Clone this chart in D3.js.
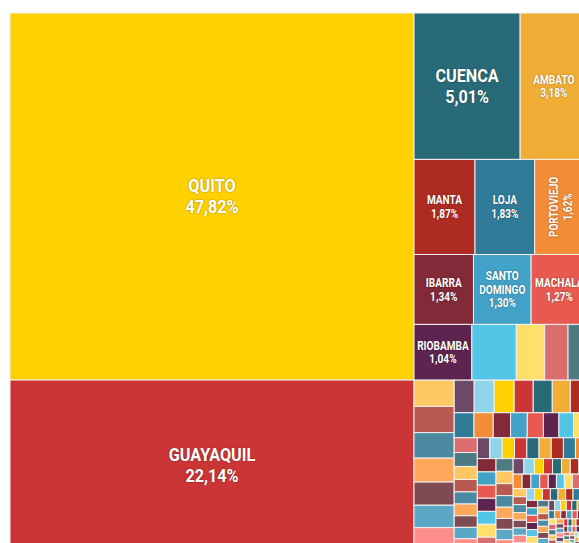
<!DOCTYPE html>
<html><head><meta charset="utf-8">
<script src="https://cdn.jsdelivr.net/npm/d3@7"></script>
<style>
html,body{margin:0;padding:0;background:#fff;}
svg{display:block;overflow:hidden;}
text.lbl{font-family:Roboto,"Noto Sans",sans-serif;font-weight:bold;fill:#fff;text-shadow:0 0 2px rgba(0,0,0,0.4);}
</style></head><body>
<svg id="chart" width="579" height="543"></svg>
<script>
// Cantones principales (con etiqueta) y su porcentaje
const cantones = ["Quito","Guayaquil","Cuenca","Ambato","Manta","Loja","Portoviejo","Ibarra","Santo Domingo","Machala","Riobamba"];
const porcentajes = [47.82,22.14,5.01,3.18,1.87,1.83,1.62,1.34,1.30,1.27,1.04];
// Resto de cantones (sin etiqueta), valores estimados de la imagen
const otrosCantones = [
  0.80,0.51,0.42,0.35,
  0.34,0.34,0.33,0.31,0.30,0.29,0.29,
  0.21,0.21,0.21,0.20,0.20,0.19,0.18,
  0.16,0.155,0.14,0.135,0.13,0.125,0.118,0.113,
  0.11,0.104,0.097,0.093,0.09,0.088,0.086,0.085,
  0.084,0.084,0.083,0.083,0.083,0.082,0.082,0.082,0.081,
  0.081,0.08,0.08,0.079,0.079,0.078,0.078,0.077,
  0.07,0.068,0.066,0.064,0.062,0.06,0.058,0.056,0.054,0.052,
  0.046,0.045,0.045,0.044,0.043,0.043,0.042,0.041,0.041,0.040,
  0.038,0.037,0.037,0.036,0.035,0.035,0.034,0.034,0.033,0.033,0.032,0.032,
  0.031,0.031,0.030,0.030,0.029,0.029,0.028,0.028,0.027,0.027,0.027,0.026,0.026,0.025,0.025,0.024,0.024,
  0.023,0.023,0.022,0.022,0.021,0.021,0.020,0.020,0.019,0.019,0.018,0.018,0.017,0.017,0.016,0.016,0.015,0.015,0.014,0.014,
  0.013,0.013,0.013,0.013,0.012,0.012,0.012,0.012,0.011,0.011,0.011,0.011,0.010,0.010,0.010,0.010,0.009,0.009,0.009,0.009,0.008,0.008,0.008,0.008,
  0.007,0.007,0.007,0.007,0.007,0.007,0.006,0.006,0.006,0.006,0.006,0.006,0.005,0.005,0.005,0.005,0.005,0.005,
  0.004,0.004,0.004,0.004,0.004,0.004,0.003,0.003,0.003,0.003,0.003,0.003
];
const colores = ["#FFD100","#CC3535","#286A78","#F0AE36","#AE2B22","#2F7B98","#F28C37","#822A37","#43A2C8","#E85A50","#5E2450","#52C6E6",
                 "#FFE06A","#DA6E6E","#4E7B81","#FFC862","#B65A52","#4B8AA0","#FFA75A","#7F4A52","#5AA8C6","#FF8E8A","#6C4966","#8FD5EA"];

const items = cantones.map((n,i)=>({name:n, value:porcentajes[i]}))
  .concat(otrosCantones.map(v=>({name:"", value:v})));
items.forEach((d,i)=>d.idx=i);

const svg = d3.select("#chart");
const g = svg.append("g").attr("transform","translate(10,13)");

const root = d3.hierarchy({children:items}).sum(d=>d.children?0:d.value);
d3.treemap().tile(d3.treemapSquarify).size([577.5,537])(root);

const color = i => colores[i % colores.length];
const fmt = v => d3.format(".2f")(v).replace(".",",") + "%";

const leaves = root.leaves();
g.selectAll("rect").data(leaves).join("rect")
  .attr("x",d=>d.x0).attr("y",d=>d.y0)
  .attr("width",d=>Math.max(0,d.x1-d.x0)).attr("height",d=>Math.max(0,d.y1-d.y0))
  .attr("fill",d=>color(d.data.idx))
  .attr("stroke","#f4f1f1").attr("stroke-width",1);

const measure = g.append("text").attr("class","lbl").attr("opacity",0);
function textW(s, fs, sx){ measure.attr("font-size",fs).text(s); return measure.node().getComputedTextLength()*sx; }

leaves.filter(d=>d.data.name).forEach(d=>{
  const w = d.x1-d.x0, h = d.y1-d.y0;
  const cx = (d.x0+d.x1)/2, cy = (d.y0+d.y1)/2;
  const big = w > 90;
  const fs = big ? 18 : 12;
  const sx = big ? 0.9 : 0.84; // estrechamiento horizontal (tipografía condensada)
  const name = d.data.name.toUpperCase();
  let lines = [name, fmt(d.data.value)];
  let rotate = false;
  if (name.includes(" ") && textW(name, fs, sx) > w - 6) {
    lines = name.split(" ").concat([fmt(d.data.value)]);
  } else if (textW(name, fs, sx) > w + 2) {
    rotate = true;
  }
  const lh = fs*1.15;
  const t = g.append("text").attr("class","lbl").attr("font-size",fs)
    .attr("text-anchor","middle")
    .attr("transform", `translate(${cx},${cy})` + (rotate ? " rotate(-90)" : "") + ` scale(${sx},1)`);
  lines.forEach((s,i)=>{
    t.append("tspan").attr("x",0).attr("y",(i-(lines.length-1)/2)*lh).attr("dy","0.35em").text(s);
  });
});
measure.remove();
</script>
</body></html>
